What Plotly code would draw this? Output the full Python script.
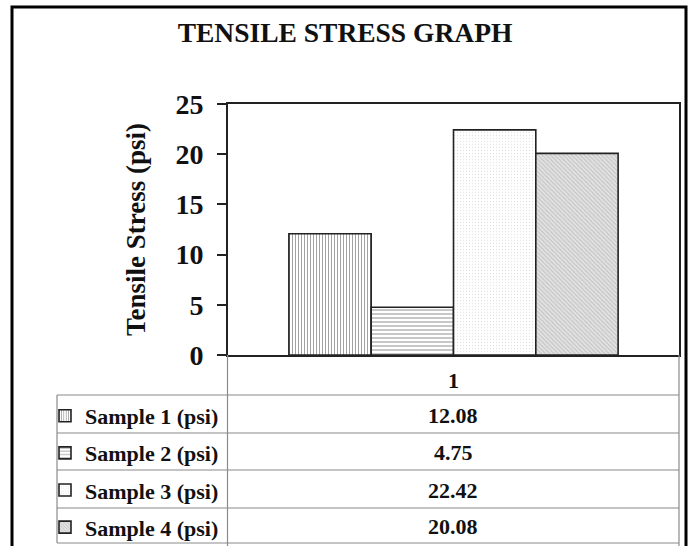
import plotly.graph_objects as go

# ---- data ----
categories = ["1"]
series_names = ["Sample 1 (psi)", "Sample 2 (psi)", "Sample 3 (psi)", "Sample 4 (psi)"]
series_values = [12.08, 4.75, 22.42, 20.08]
y_ticks = [0, 5, 10, 15, 20, 25]

# ---- styles ----
patterns = [
    dict(shape="|", fgcolor="#444444", bgcolor="white", size=3, solidity=0.35),
    dict(shape="-", fgcolor="#444444", bgcolor="white", size=4, solidity=0.3),
    dict(shape=".", fgcolor="#c8c8c8", bgcolor="white", size=3, solidity=0.15),
    dict(shape="\\", fgcolor="#a0a0a0", bgcolor="#e2e2e2", size=3, solidity=0.35),
]

W, H = 690, 546
L, R, T, B = 228, 679, 104, 355  # plot area in pixels
FONT = "Liberation Serif"


def px(x):
    return (x - L) / (R - L)


def py(y):
    return (B - y) / (B - T)


fig = go.Figure()
for i, (name, val) in enumerate(zip(series_names, series_values)):
    fig.add_trace(go.Bar(
        x=categories, y=[val], name=name, legendgroup=name,
        marker=dict(color="white", pattern=patterns[i],
                    line=dict(color="#222222", width=1.6)),
        showlegend=True,
    ))

shapes = []
grey = "#8a8a8a"
# outer frame
shapes.append(dict(type="rect", xref="paper", yref="paper",
                   x0=px(12), x1=px(686), y0=py(7), y1=py(560),
                   line=dict(color="black", width=3), layer="below"))
# table
row_lines = [395, 433, 470, 508, 543]
for yy in row_lines:
    shapes.append(dict(type="line", xref="paper", yref="paper",
                       x0=px(57), x1=px(R), y0=py(yy), y1=py(yy),
                       line=dict(color=grey, width=1.2)))
shapes.append(dict(type="line", xref="paper", yref="paper",
                   x0=px(57), x1=px(57), y0=py(395), y1=py(543),
                   line=dict(color=grey, width=1.2)))
shapes.append(dict(type="line", xref="paper", yref="paper",
                   x0=px(227.5), x1=px(227.5), y0=py(B), y1=py(546),
                   line=dict(color=grey, width=1.2)))
shapes.append(dict(type="line", xref="paper", yref="paper",
                   x0=px(R), x1=px(R), y0=py(B), y1=py(546),
                   line=dict(color=grey, width=1.2)))

annotations = []
for i, val in enumerate(series_values):
    yc = (row_lines[i] + row_lines[i + 1]) / 2
    annotations.append(dict(xref="paper", yref="paper", x=px((227 + R) / 2), y=py(yc + 1),
                            text=f"{val:.2f}", showarrow=False,
                            font=dict(family=FONT, size=22, color="#111111", weight="bold"),
                            xanchor="center", yanchor="middle"))

fig.update_layout(
    width=W, height=H,
    margin=dict(l=L, r=W - R, t=T, b=H - B, autoexpand=False),
    paper_bgcolor="white", plot_bgcolor="white",
    barmode="group", bargap=0.27, bargroupgap=0,
    title=dict(text="TENSILE STRESS GRAPH", x=0.5, xref="container", xanchor="center",
               y=1 - 32 / H, yref="container", yanchor="middle",
               font=dict(family=FONT, size=27.5, color="#111111", weight="bold")),
    font=dict(family=FONT, color="#111111"),
    showlegend=True,
    legend=dict(x=px(45), y=py(395), xanchor="left", yanchor="top",
                xref="paper", yref="paper",
                font=dict(family=FONT, size=22, color="#111111", weight="bold"),
                tracegroupgap=5.5, traceorder="grouped", bgcolor="rgba(0,0,0,0)",
                itemwidth=30),
    shapes=shapes, annotations=annotations,
)
fig.update_xaxes(type="category", categoryorder="array", categoryarray=categories,
                 showline=True, linecolor="#222222", linewidth=1.6, mirror=True,
                 ticks="", ticklabelstandoff=5,
                 tickfont=dict(family=FONT, size=22, color="#111111", weight="bold"),
                 showgrid=False)
fig.update_yaxes(range=[0, 25], tickvals=y_ticks, showgrid=False, zeroline=False,
                 showline=True, linecolor="#222222", linewidth=1.6, mirror=True,
                 ticks="outside", ticklen=9, tickwidth=1.5, tickcolor="#222222",
                 ticklabelstandoff=8,
                 tickfont=dict(family=FONT, size=28, color="#111111", weight="bold"),
                 title=dict(text="Tensile Stress (psi)", standoff=22,
                            font=dict(family=FONT, size=27, color="#111111", weight="bold")))

fig.write_html("out.html", config={"displayModeBar": False},
               post_script="document.body.style.margin='0px';")
